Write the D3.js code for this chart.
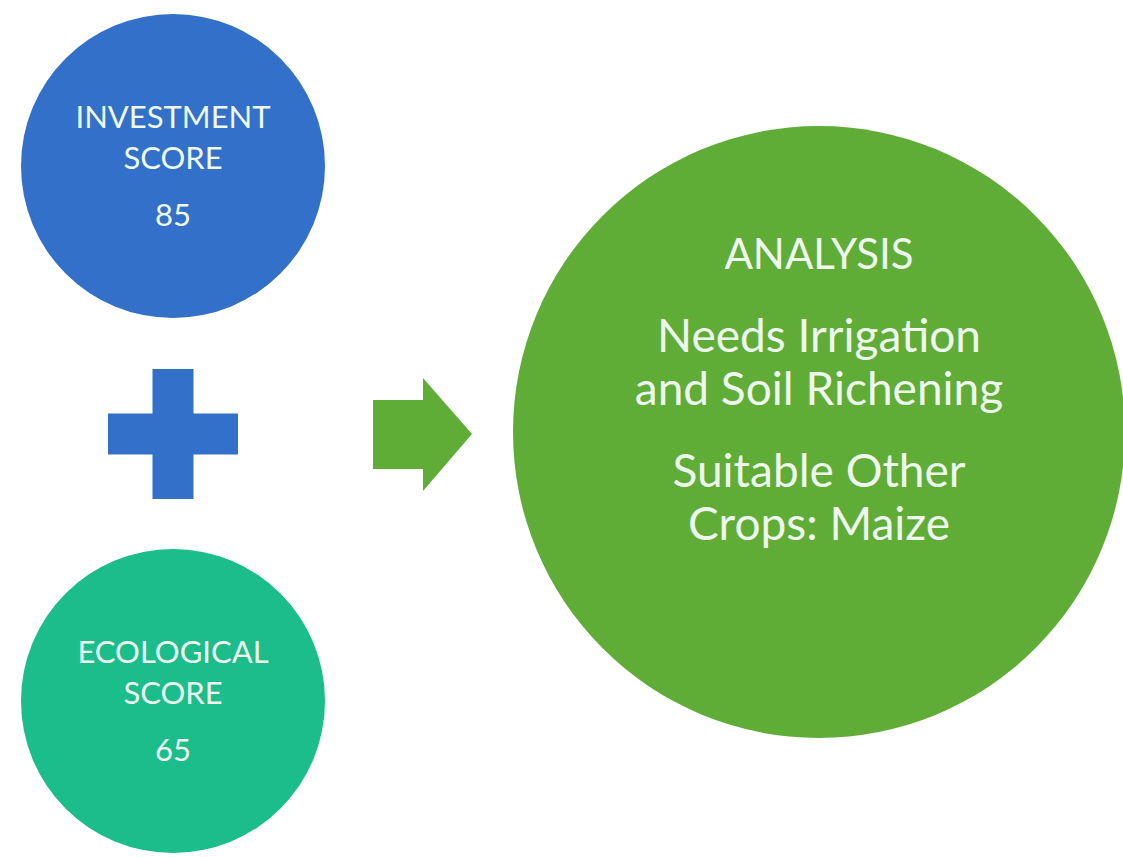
<!DOCTYPE html>
<html>
<head>
<meta charset="utf-8">
<script src="https://cdn.jsdelivr.net/npm/d3@7"></script>
<style>
  body { margin: 0; background: #fff; }
  text { font-family: Lato, "Open Sans", sans-serif; }
</style>
</head>
<body>
<div id="chart"></div>
<script>
// data
var scoreNames = [["INVESTMENT", "SCORE"], ["ECOLOGICAL", "SCORE"]]
var scoreValues = [85, 65]
var analysisTitle = "ANALYSIS"
var analysisLines = [["Needs Irrigation", "and Soil Richening"], ["Suitable Other", "Crops: Maize"]]

var width = 1123,
    height = 857

var svg = d3.select("#chart").append("svg")
    .attr("width", width)
    .attr("height", height)

var colors = ["#3370c9", "#1bbd8b"]
var green = "#5fad37"
var textColor = "#eef8ee"

// two score circles stacked on the left
var yScale = d3.scalePoint()
    .domain(d3.range(scoreValues.length))
    .range([166, 701])

var r = 152, cx = 173

var nodes = svg.selectAll("g.score")
    .data(scoreValues)
    .enter().append("g")
    .attr("class", "score")
    .attr("transform", function(d, i) { return "translate(" + cx + "," + yScale(i) + ")" })

nodes.append("circle")
    .attr("r", r)
    .attr("fill", function(d, i) { return colors[i] })

nodes.each(function(d, i) {
  var g = d3.select(this)
  scoreNames[i].forEach(function(line, j) {
    g.append("text")
      .attr("y", -38 + j * 41)
      .attr("text-anchor", "middle")
      .attr("font-size", 31)
      .attr("fill", textColor)
      .text(line)
  })
  g.append("text")
    .attr("y", 60)
    .attr("text-anchor", "middle")
    .attr("font-size", 31)
    .attr("fill", textColor)
    .text(d)
})

// plus sign between them
var plusY = (yScale(0) + yScale(1)) / 2 + 0.5
var arm = 65, half = 20.5
svg.append("path")
    .attr("fill", colors[0])
    .attr("d", d3.line()([
      [cx - half, plusY - arm], [cx + half, plusY - arm], [cx + half, plusY - half],
      [cx + arm, plusY - half], [cx + arm, plusY + half], [cx + half, plusY + half],
      [cx + half, plusY + arm], [cx - half, plusY + arm], [cx - half, plusY + half],
      [cx - arm, plusY + half], [cx - arm, plusY - half], [cx - half, plusY - half]
    ]) + "Z")

// arrow
svg.append("path")
    .attr("fill", green)
    .attr("d", d3.line()([
      [373, plusY - 34], [423, plusY - 34], [423, plusY - 56], [472, plusY],
      [423, plusY + 57], [423, plusY + 35], [373, plusY + 35]
    ]) + "Z")

// big analysis circle
var big = svg.append("g").attr("transform", "translate(819,432)")
big.append("circle")
    .attr("r", 306)
    .attr("fill", green)

var lines = [analysisTitle].concat(analysisLines[0], analysisLines[1])
var lineY = [-163, -80, -27, 55, 108]
big.selectAll("text")
    .data(lines)
    .enter().append("text")
    .attr("y", function(d, i) { return lineY[i] })
    .attr("text-anchor", "middle")
    .attr("font-size", function(d, i) { return i == 0 ? 42 : 46 })
    .attr("fill", textColor)
    .text(function(d) { return d })
</script>
</body>
</html>
